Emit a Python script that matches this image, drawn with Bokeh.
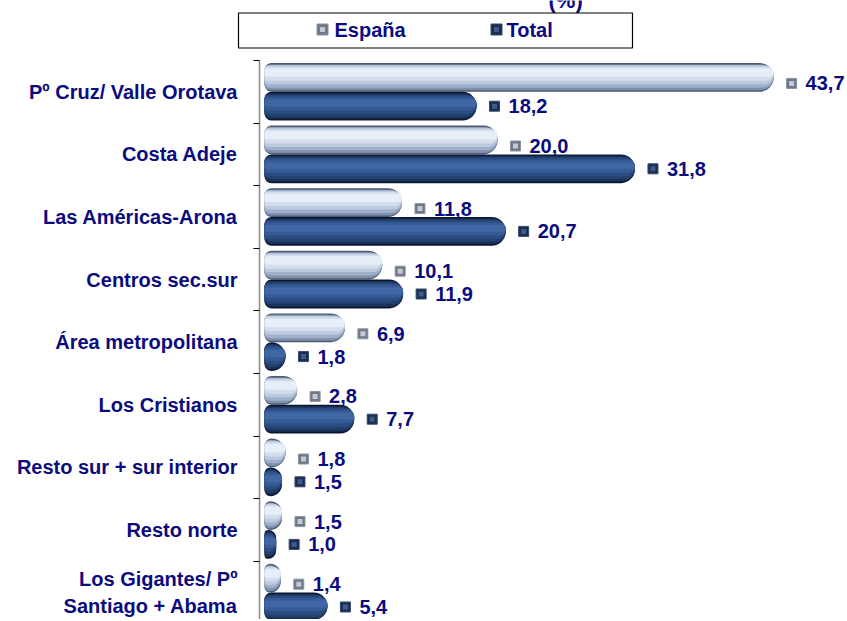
from bokeh.plotting import figure
from bokeh.models import Range1d, FixedTicker, ColumnDataSource
from bokeh.layouts import column
from bokeh.embed import file_html
from bokeh.resources import INLINE
from bokeh.core.properties import value

# ---------------- data ----------------
categories = [
    "Pº Cruz/ Valle Orotava",
    "Costa Adeje",
    "Las Américas-Arona",
    "Centros sec.sur",
    "Área metropolitana",
    "Los Cristianos",
    "Resto sur + sur interior",
    "Resto norte",
    "Los Gigantes/ Pº\nSantiago + Abama",
]
espana = [43.7, 20.0, 11.8, 10.1, 6.9, 2.8, 1.8, 1.5, 1.4]
total = [18.2, 31.8, 20.7, 11.9, 1.8, 7.7, 1.5, 1.0, 5.4]
series_names = ["España", "Total"]
title_tail = "(%)"

# ---------------- style / layout ----------------
FONT = "Liberation Sans"
NAVY = "#0b0b80"
W = 845
LEG_H = 60
MAIN_H = 559
FRAME_LEFT = 259
ZERO_PX = 5            # gap between axis line and the bars' base
PX_PER_UNIT = 11.65
FRAME_W = W - FRAME_LEFT
X_START = -ZERO_PX / PX_PER_UNIT
X_END = X_START + FRAME_W / PX_PER_UNIT
BAND_PX = 62.6
Y_VISIBLE = MAIN_H / BAND_PX
BAR_H = 0.46
CENTERS = [0.27, 0.73]

def fmt(v):
    return f"{v:.1f}".replace(".", ",")

# ---------------- legend figure ----------------
leg = figure(width=W, height=LEG_H, x_range=Range1d(0, W), y_range=Range1d(LEG_H, 0),
             toolbar_location=None, output_backend="svg", min_border=0,
             outline_line_color=None)
leg.frame_align = False
leg.axis.visible = False
leg.grid.visible = False
# bottom of the (cut-off) chart title
leg.text(x=[548], y=[0], text=[title_tail], text_font=value(FONT),
         text_font_style="bold", text_font_size="22px", text_color=NAVY,
         text_baseline="alphabetic", text_align="left")
leg.quad(left=[238], right=[632], top=[12.5], bottom=[47.5], fill_color="white",
         line_color="black", line_width=1.2)
sw_x = [322, 496]
txt_x = [334, 506]
leg.scatter(x=sw_x, y=[29, 29], marker="square", size=11,
            fill_color=["#6f7686", "#1b2d4f"], line_color=["#8a93a3", "#33486e"])
leg.scatter(x=sw_x, y=[29, 29], marker="square", size=5,
            fill_color=["#c3cad6", "#3d5b8c"], line_color=None)
leg.text(x=txt_x, y=[29, 29], text=series_names, text_font=value(FONT),
         text_font_style="bold", text_font_size="20px", text_color=NAVY,
         text_baseline="middle", text_align="left")

# ---------------- main figure ----------------
p = figure(width=W, height=MAIN_H, x_range=Range1d(X_START, X_END),
           y_range=Range1d(Y_VISIBLE, 0), toolbar_location=None,
           output_backend="svg", min_border_left=FRAME_LEFT, min_border_right=0,
           min_border_top=0, min_border_bottom=0, outline_line_color=None)
p.frame_align = False
p.xaxis.visible = False
p.grid.visible = False

n = len(categories)
yax = p.yaxis[0]
yax.ticker = FixedTicker(ticks=[i + 0.5 for i in range(n)],
                         minor_ticks=[float(i) for i in range(n + 1)])
yax.major_label_overrides = {i + 0.5: c for i, c in enumerate(categories)}
yax.major_tick_out = 0
yax.major_tick_in = 0
yax.minor_tick_out = 6
yax.minor_tick_in = 0
yax.minor_tick_line_color = "black"
yax.axis_line_color = "#8c8c8c"
yax.axis_line_width = 1.5
yax.major_label_standoff = 16
yax.major_label_text_font = FONT
yax.major_label_text_font_style = "bold"
yax.major_label_text_font_size = "20px"
yax.major_label_text_color = NAVY
yax.major_label_text_align = "right"

# cylinder-like bars built from layered rounded bars: (top, bottom) fraction, colour
layers = {
    0: [(0.00, 1.00, "#4d5a70"), (0.05, 0.95, "#7f90ad"), (0.07, 0.86, "#9fb0ca"),
        (0.09, 0.74, "#bccadf"), (0.13, 0.62, "#d3ddec"), (0.19, 0.48, "#e8eef8")],
    1: [(0.00, 1.00, "#0a1630"), (0.05, 0.94, "#1a3158"), (0.09, 0.86, "#23406f"),
        (0.13, 0.76, "#2c4d84"), (0.19, 0.64, "#355a94"), (0.27, 0.52, "#3f67a4")],
}
data = [espana, total]
for s in range(2):
    vals = data[s]
    for t, b, col in layers[s]:
        h = BAR_H * (b - t)
        ys = [i + CENTERS[s] - BAR_H / 2 + (t + b) / 2 * BAR_H for i in range(n)]
        r = max(1, int(round(h * BAND_PX / 2)))
        p.hbar(y=ys, left=0, right=vals, height=h, fill_color=col, line_color=None,
               border_radius=(int(r * 0.5), r, r, int(r * 0.5)))

# value labels with small square markers
label_dy = [6, 0]
for s in range(2):
    vals = data[s]
    ys = [i + CENTERS[s] + label_dy[s] / BAND_PX for i in range(n)]
    mx = [v + 18 / PX_PER_UNIT for v in vals]
    src = ColumnDataSource(dict(x=vals, mx=mx, y=ys, t=[fmt(v) for v in vals]))
    if s == 0:
        p.scatter(x="mx", y="y", source=src, marker="square", size=10,
                  fill_color="#6f7686", line_color="#8a93a3")
        p.scatter(x="mx", y="y", source=src, marker="square", size=5,
                  fill_color="#c3cad6", line_color=None)
    else:
        p.scatter(x="mx", y="y", source=src, marker="square", size=10,
                  fill_color="#1b2d4f", line_color="#33486e")
        p.scatter(x="mx", y="y", source=src, marker="square", size=5,
                  fill_color="#3d5b8c", line_color=None)
    p.text(x="x", y="y", text="t", source=src, x_offset=32, text_font=value(FONT),
           text_font_style="bold", text_font_size="20px", text_color=NAVY,
           text_baseline="middle", text_align="left")

layout = column(leg, p, spacing=0)
open("out.html", "w").write(file_html(layout, INLINE))
